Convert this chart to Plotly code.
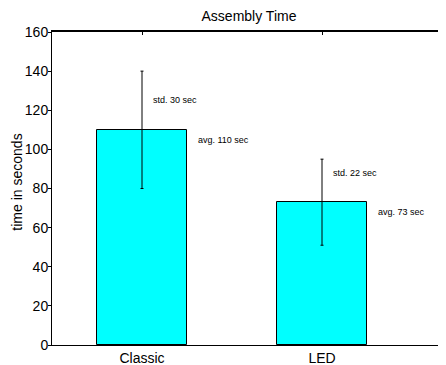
import plotly.graph_objects as go

categories = ["Classic", "LED"]
avg_times = [110, 73]
std_times = [30, 22]
x_pos = [1, 2]

FONT = "Liberation Sans, Arial, sans-serif"
W, H = 438, 357  # page body has an 8px margin

fig = go.Figure()
fig.add_trace(go.Bar(
    x=x_pos, y=avg_times, width=0.505,
    marker=dict(color="#00FFFF", line=dict(color="#000000", width=1)),
    error_y=dict(type="data", array=std_times, visible=True, color="#000000", thickness=1, width=1.5),
    showlegend=False, hoverinfo="skip",
))
# helper trace for secondary (top/right) axes
fig.add_trace(go.Scatter(x=[1], y=[0], xaxis="x2", yaxis="y2", mode="markers",
                         marker=dict(opacity=0), showlegend=False, hoverinfo="skip"))

for xp, a, s in zip(x_pos, avg_times, std_times):
    fig.add_annotation(x=xp + 0.05, y=a + 15, text=f"std. {s} sec", showarrow=False,
                       xanchor="left", yanchor="middle", font=dict(size=9, color="#000", family=FONT))
    fig.add_annotation(x=xp + 0.3, y=a - 5, text=f"avg. {a} sec", showarrow=False,
                       xanchor="left", yanchor="middle", font=dict(size=9, color="#000", family=FONT))

# y-axis title as a rotated annotation (slightly above plot centre as in the reference)
fig.add_annotation(text="time in seconds", xref="paper", x=0, xshift=-35, xanchor="center",
                   yref="y", y=83, yanchor="middle", textangle=-90, showarrow=False, borderpad=0,
                   font=dict(size=14, color="#000", family=FONT))

xr = [0.5, 0.5 + 394 / 180]
fig.update_layout(
    width=W, height=H,
    margin=dict(l=44, r=0, t=24, b=20, autoexpand=False),
    paper_bgcolor="white", plot_bgcolor="white",
    font=dict(family=FONT, color="#000"),
    title=dict(text="Assembly Time", x=241 / W, xanchor="center", y=1 - 8 / H, yanchor="middle",
               font=dict(size=14, family=FONT, color="#000")),
    bargap=0,
    xaxis=dict(range=xr, tickvals=x_pos, ticktext=categories, showline=True, linecolor="#000",
               linewidth=1, ticks="", showgrid=False, zeroline=False, tickfont=dict(size=14),
               automargin=False),
    yaxis=dict(range=[0, 160], dtick=20, showline=True, linecolor="#000", linewidth=1,
               ticks="outside", ticklen=3, tickcolor="#000", showgrid=False, zeroline=False,
               tickfont=dict(size=14), automargin=False, ticklabelstandoff=-3),
    xaxis2=dict(range=xr, overlaying="x", side="top", tickvals=x_pos, showticklabels=False,
                ticks="inside", ticklen=3, tickcolor="#000", showline=True, linecolor="#000",
                linewidth=1.5, showgrid=False, zeroline=False, automargin=False),
    yaxis2=dict(range=[0, 160], overlaying="y", side="right", dtick=20, showticklabels=False,
                ticks="inside", ticklen=2, tickcolor="#999", showline=False, showgrid=False,
                zeroline=False, automargin=False),
)
fig.write_html("out.html")
